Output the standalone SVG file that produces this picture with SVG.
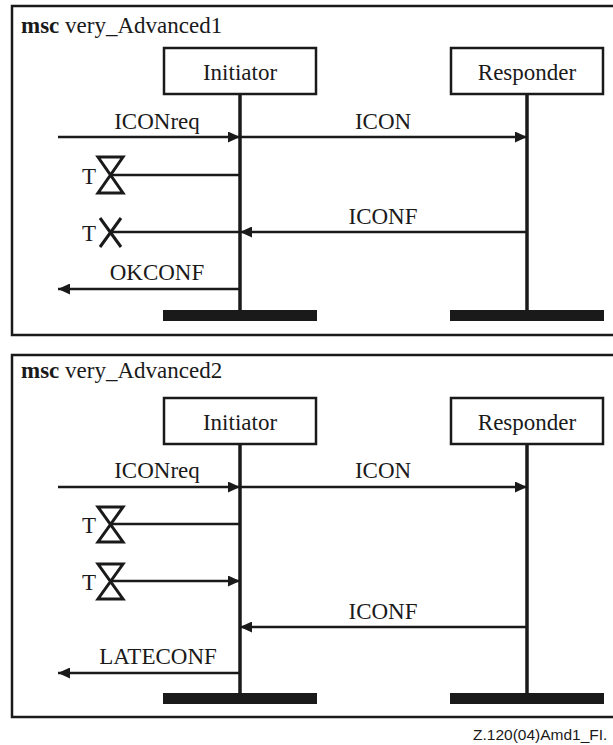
<svg xmlns="http://www.w3.org/2000/svg" width="613" height="745" viewBox="0 0 613 745">
  <style>
    .frame { fill: none; stroke: #1a1a1a; stroke-width: 2.5; }
    .box { fill: #fff; stroke: #1a1a1a; stroke-width: 2.5; }
    .life { stroke: #1a1a1a; stroke-width: 3.5; fill: none; }
    .msg { stroke: #1a1a1a; stroke-width: 2.5; fill: none; }
    .bar { fill: #1a1a1a; }
    .timer { fill: none; stroke: #1a1a1a; stroke-width: 3; stroke-linejoin: miter; }
    .t { font-family: 'Liberation Serif', 'DejaVu Serif', serif; font-size: 23px; fill: #1a1a1a; }
    .mid { text-anchor: middle; }
    .foot { font-family: 'Liberation Sans', Arial, sans-serif; font-size: 15.5px; fill: #1a1a1a; }
  </style>
  <defs>
    <marker id="ah" viewBox="0 0 12 11" refX="12" refY="5.5" markerWidth="12" markerHeight="11" markerUnits="userSpaceOnUse" orient="auto">
      <path d="M0,0 L12,5.5 L0,11 Z" fill="#1a1a1a"/>
    </marker>
  </defs>

  <!-- ===== msc very_Advanced1 ===== -->
  <g id="frame1">
    <rect class="frame" x="12" y="6" width="610" height="329"/>
    <text class="t" x="21" y="33" font-family="Liberation Serif, serif"><tspan font-weight="bold">msc</tspan> very_Advanced1</text>
  </g>
  <g id="initiator1">
    <rect class="box" x="164" y="48" width="152" height="46"/>
    <text class="t mid" x="240" y="80">Initiator</text>
    <rect class="bar" x="163" y="310" width="154" height="11"/>
  </g>
  <g id="responder1">
    <rect class="box" x="451" y="48" width="152" height="46"/>
    <text class="t mid" x="527" y="80">Responder</text>
    <rect class="bar" x="450" y="310" width="154" height="11"/>
  </g>
  <g id="timer1a">
    <path class="timer" d="M98,157 L123,157 L98,193 L123,193 Z"/>
    <text class="t" x="82" y="184">T</text>
  </g>
  <g id="timeout1">
    <path class="timer" d="M100,218 L121,247 M121,218 L100,247"/>
    <text class="t" x="82" y="241">T</text>
  </g>
  <g id="connectors1">
    <line class="life" x1="240" y1="94" x2="240" y2="310"/>
    <line class="life" x1="527" y1="94" x2="527" y2="310"/>
    <line class="msg" x1="58" y1="137" x2="240" y2="137" marker-end="url(#ah)"/>
    <text class="t mid" x="157" y="129">ICONreq</text>
    <line class="msg" x1="240" y1="137" x2="527" y2="137" marker-end="url(#ah)"/>
    <text class="t mid" x="383" y="129">ICON</text>
    <line class="msg" x1="111" y1="175" x2="240" y2="175"/>
    <line class="msg" x1="527" y1="232" x2="240" y2="232" marker-end="url(#ah)"/>
    <line class="msg" x1="111" y1="232" x2="240" y2="232"/>
    <text class="t mid" x="383" y="224">ICONF</text>
    <line class="msg" x1="240" y1="289" x2="58" y2="289" marker-end="url(#ah)"/>
    <text class="t mid" x="157" y="280">OKCONF</text>
  </g>

  <!-- ===== msc very_Advanced2 ===== -->
  <g id="frame2">
    <rect class="frame" x="12" y="355" width="610" height="362"/>
    <text class="t" x="21" y="378"><tspan font-weight="bold">msc</tspan> very_Advanced2</text>
  </g>
  <g id="initiator2">
    <rect class="box" x="164" y="398" width="152" height="46"/>
    <text class="t mid" x="240" y="430">Initiator</text>
    <rect class="bar" x="163" y="693" width="154" height="11"/>
  </g>
  <g id="responder2">
    <rect class="box" x="451" y="398" width="152" height="46"/>
    <text class="t mid" x="527" y="430">Responder</text>
    <rect class="bar" x="450" y="693" width="154" height="11"/>
  </g>
  <g id="timer2a">
    <path class="timer" d="M98,507 L123,507 L98,542 L123,542 Z"/>
    <text class="t" x="82" y="533">T</text>
  </g>
  <g id="timer2b">
    <path class="timer" d="M98,564 L123,564 L98,599 L123,599 Z"/>
    <text class="t" x="82" y="590">T</text>
  </g>
  <g id="connectors2">
    <line class="life" x1="240" y1="444" x2="240" y2="693"/>
    <line class="life" x1="527" y1="444" x2="527" y2="693"/>
    <line class="msg" x1="58" y1="487" x2="240" y2="487" marker-end="url(#ah)"/>
    <text class="t mid" x="157" y="478">ICONreq</text>
    <line class="msg" x1="240" y1="487" x2="527" y2="487" marker-end="url(#ah)"/>
    <text class="t mid" x="383" y="478">ICON</text>
    <line class="msg" x1="111" y1="524" x2="240" y2="524"/>
    <line class="msg" x1="111" y1="581" x2="240" y2="581" marker-end="url(#ah)"/>
    <line class="msg" x1="527" y1="627" x2="240" y2="627" marker-end="url(#ah)"/>
    <text class="t mid" x="383" y="619">ICONF</text>
    <line class="msg" x1="240" y1="673" x2="58" y2="673" marker-end="url(#ah)"/>
    <text class="t mid" x="158" y="664">LATECONF</text>
  </g>

  <text class="foot" x="473" y="740">Z.120(04)Amd1_FI.</text>
</svg>
